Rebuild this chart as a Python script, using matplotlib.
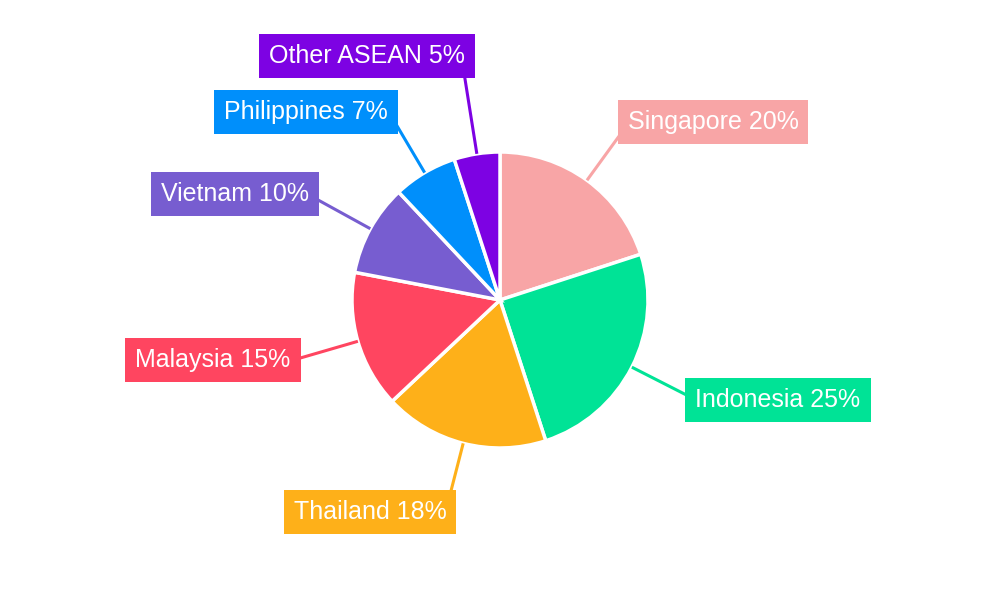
import numpy as np
import matplotlib
matplotlib.use("Agg")
import matplotlib.pyplot as plt

plt.rcParams['font.family'] = ['Liberation Sans', 'DejaVu Sans']

countries = ['Singapore', 'Indonesia', 'Thailand', 'Malaysia', 'Vietnam', 'Philippines', 'Other ASEAN']
shares = [20, 25, 18, 15, 10, 7, 5]
colours = ['#F8A5A6', '#00E396', '#FEB019', '#FF4560', '#775DD0', '#008FFB', '#7D02E3']

# layout: label box centres (pixels from top-left) and leader line reach
box_centres = [(713, 122), (778, 400), (370, 512), (213, 360), (235, 194), (306, 112), (367, 56)]
leader_reach = [210, 215, 200, 215, 212, 210, 228]

W, H = 1000, 600
fig = plt.figure(figsize=(10, 6), dpi=100)
ax = fig.add_axes([0, 0, 1, 1])

cx, cy, r = 500, 300, 148
ax.pie(shares, colors=colours, startangle=90, counterclock=False,
       center=(cx, cy), radius=r, frame=True,
       wedgeprops={'edgecolor': 'white', 'linewidth': 2.5})
ax.set_xlim(0, W)
ax.set_ylim(0, H)
ax.set_aspect('equal')
ax.axis('off')

fs = 18
cum = np.cumsum([0] + shares[:-1])
for i, (name, val) in enumerate(zip(countries, shares)):
    theta = np.deg2rad((cum[i] + val / 2) / sum(shares) * 360)
    s, c = np.sin(theta), np.cos(theta)
    x0, y0 = cx + r * s, cy + r * c
    x1, y1 = cx + leader_reach[i] * s, cy + leader_reach[i] * c
    ax.plot([x0, x1], [y0, y1], color=colours[i], lw=2.2, solid_capstyle='butt', zorder=1)

    bx, by = box_centres[i]
    ax.text(bx, H - by, f"{name} {val}%", ha='center', va='center', fontsize=fs,
            color='white', zorder=3,
            bbox=dict(boxstyle='square,pad=0.4', fc=colours[i], ec='none'))

fig.savefig('out.png', dpi=100)
